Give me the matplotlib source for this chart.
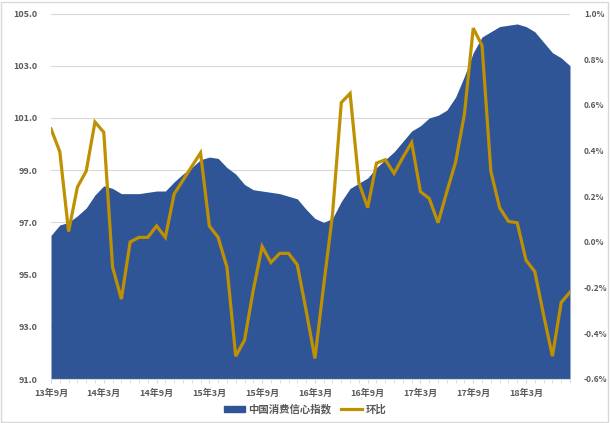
import matplotlib
matplotlib.use("Agg")
import matplotlib.pyplot as plt
from matplotlib.patches import Rectangle
from matplotlib.lines import Line2D
from matplotlib.patches import Patch

plt.rcParams['font.family'] = ['Noto Sans CJK SC', 'DejaVu Sans']

# monthly data, 13年9月 .. 18年8月
confidence = [96.5, 96.9, 97.0, 97.25, 97.55, 98.05, 98.4, 98.3, 98.1, 98.1,
              98.1, 98.15, 98.2, 98.2, 98.55, 98.85, 99.1, 99.4, 99.5, 99.45,
              99.1, 98.85, 98.45, 98.25, 98.2, 98.15, 98.1, 98.0, 97.9, 97.5,
              97.15, 97.0, 97.15, 97.8, 98.3, 98.5, 98.7, 99.1, 99.4, 99.7,
              100.1, 100.5, 100.7, 101.0, 101.1, 101.3, 101.8, 102.6, 103.5, 104.1,
              104.3, 104.5, 104.55, 104.6, 104.5, 104.3, 103.9, 103.5, 103.3, 103.0]
mom = [0.495, 0.395, 0.045, 0.24, 0.31, 0.525, 0.48, -0.11, -0.25, 0.0,
       0.02, 0.02, 0.07, 0.02, 0.21, 0.27, 0.33, 0.39, 0.07, 0.02,
       -0.11, -0.5, -0.43, -0.21, -0.02, -0.09, -0.05, -0.05, -0.1, -0.3,
       -0.51, -0.19, 0.12, 0.61, 0.65, 0.26, 0.15, 0.345, 0.36, 0.30,
       0.37, 0.435, 0.22, 0.19, 0.084, 0.22, 0.35, 0.56, 0.936, 0.86,
       0.31, 0.15, 0.09, 0.084, -0.08, -0.13, -0.32, -0.5, -0.265, -0.22]
tick_labels = ['13年9月', '14年3月', '14年9月', '15年3月', '15年9月',
               '16年3月', '16年9月', '17年3月', '17年9月', '18年3月']
left_ticks = [91, 93, 95, 97, 99, 101, 103, 105]
right_ticks = [-0.6, -0.4, -0.2, 0.0, 0.2, 0.4, 0.6, 0.8, 1.0]

blue = '#2F5597'
gold = '#BF9000'
txt = '#595959'
x = list(range(len(confidence)))

fig = plt.figure(figsize=(6.10, 4.23), dpi=100)
ax = fig.add_axes([51 / 610, 1 - 379 / 423, (570 - 51) / 610, (379 - 13.5) / 423])

# area series (left axis)
ax.fill_between(x, 91, confidence, color=blue, lw=0, zorder=2)
ax.set_ylim(91, 105)
ax.set_xlim(0, len(x) - 1)
ax.set_yticks(left_ticks)
ax.set_yticklabels([f'{v:.1f}' for v in left_ticks])
ax.set_axisbelow(True)
ax.grid(axis='y', color='#D9D9D9', lw=0.8)
ax.set_xticks(range(0, len(x), 6))
ax.set_xticklabels(tick_labels)
ax.set_xticks(range(len(x)), minor=True)
ax.tick_params(axis='x', which='both', length=3, color='#D9D9D9', labelsize=6.5,
               labelcolor=txt, pad=4)
ax.tick_params(axis='y', length=0, labelsize=6.5, labelcolor=txt, pad=10)
for lab in ax.get_xticklabels() + ax.get_yticklabels():
    lab.set_fontweight('bold')
for s in ['top', 'left', 'right']:
    ax.spines[s].set_visible(False)
ax.spines['bottom'].set_color('#D9D9D9')

# month-on-month line (right axis)
ax2 = ax.twinx()
ax2.plot(x, mom, color=gold, lw=2.3, solid_joinstyle='miter', zorder=3)
ax2.set_ylim(-0.6, 1.0)
ax2.set_yticks(right_ticks)
ax2.set_yticklabels([f'{v:.1f}%' for v in right_ticks])
ax2.tick_params(axis='y', length=0, labelsize=6, labelcolor=txt, pad=10)
for lab in ax2.get_yticklabels():
    lab.set_fontweight('bold')
for s in ax2.spines.values():
    s.set_visible(False)

handles = [Patch(color=blue), Line2D([], [], color=gold, lw=2.3)]
leg = fig.legend(handles, ['中国消费信心指数', '环比'], loc='center',
                 bbox_to_anchor=(0.5, 1 - 409 / 423), ncol=2, frameon=False,
                 fontsize=7.5, handlelength=2.0, handleheight=0.5,
                 columnspacing=1.0, handletextpad=0.3)
for t in leg.get_texts():
    t.set_color(txt)
    t.set_fontweight('bold')

fig.patches.append(Rectangle((0.002, 0.003), 0.995, 0.993, transform=fig.transFigure,
                             fill=False, edgecolor='#D9D9D9', lw=1))

fig.savefig('out.png', dpi=100)
